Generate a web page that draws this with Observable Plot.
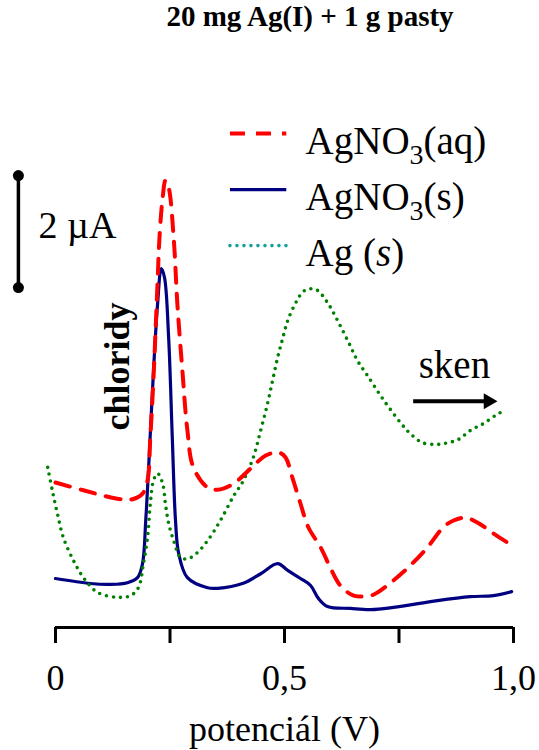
<!DOCTYPE html>
<html><head><meta charset="utf-8">
<script src="https://cdn.jsdelivr.net/npm/d3@7"></script>
<script src="https://cdn.jsdelivr.net/npm/@observablehq/plot@0.6"></script>
<style>
body{margin:0;background:#fff;}
#title{width:539px;height:45px;line-height:42px;font:bold 29px "Liberation Serif","Times New Roman",serif;text-align:center;padding-left:81px;box-sizing:border-box;white-space:nowrap;}
</style></head><body>
<div id="title">20 mg Ag(I) + 1 g pasty</div>
<div id="chart"></div>
<script>
// ---- data (potential in V, current in µA above baseline) ----
const aqV = [0,0.061,0.135,0.168,0.19,0.201,0.207,0.214,0.223,0.227,0.234,0.24,0.247,0.258,0.266,0.277,0.288,0.301,0.332,0.354,0.389,0.426,0.459,0.487,0.502,0.517,0.535,0.552,0.579,0.600,0.622,0.651,0.688,0.703,0.738,0.775,0.812,0.847,0.869,0.895,0.921,0.956,0.998];
const aqI = [2.59,2.45,2.30,2.29,2.39,2.63,3.39,4.46,6.20,6.96,7.68,7.98,7.86,6.96,5.79,4.59,3.52,2.86,2.50,2.46,2.57,2.84,3.07,3.125,3.04,2.68,2.21,1.79,1.43,1.07,0.75,0.57,0.57,0.625,0.84,1.11,1.43,1.79,1.91,1.96,1.875,1.68,1.46];

const sV = [0,0.076,0.12,0.157,0.179,0.19,0.197,0.203,0.214,0.223,0.231,0.238,0.247,0.255,0.262,0.269,0.288,0.332,0.354,0.41,0.448,0.485,0.507,0.535,0.557,0.574,0.594,0.644,0.688,0.738,0.834,0.906,0.956,0.996];
const sI = [0.875,0.786,0.77,0.80,0.89,1.14,1.91,2.80,4.59,5.79,6.41,6.25,5.18,3.39,1.91,1.32,0.89,0.71,0.70,0.79,0.96,1.14,1.02,0.875,0.75,0.52,0.375,0.34,0.32,0.36,0.48,0.55,0.57,0.64];

const agV = [-0.017,-0.007,0.004,0.017,0.039,0.061,0.092,0.135,0.164,0.181,0.192,0.201,0.207,0.214,0.223,0.234,0.24,0.247,0.258,0.273,0.29,0.31,0.332,0.36,0.389,0.41,0.432,0.448,0.463,0.474,0.485,0.496,0.507,0.524,0.541,0.557,0.572,0.594,0.616,0.640,0.659,0.681,0.714,0.753,0.775,0.801,0.834,0.852,0.880,0.906,0.934,0.961,0.976];
const agI = [2.86,2.45,2.04,1.61,1.20,0.89,0.625,0.54,0.57,0.71,1.14,1.61,2.21,2.625,2.75,2.57,2.21,1.86,1.55,1.25,1.23,1.34,1.55,1.91,2.35,2.62,3.04,3.52,4.0,4.41,4.82,5.16,5.48,5.79,6.0,6.05,6.02,5.80,5.48,5.09,4.77,4.5,4.09,3.66,3.46,3.30,3.27,3.29,3.36,3.52,3.64,3.79,3.86];

const xTickValues = [0, 0.25, 0.5, 0.75, 1];
const xTickLabels = ["0", "", "0,5", "", "1,0"];
const xLabel = "potenciál (V)";
const seriesNames = ["AgNO3(aq)", "AgNO3(s)", "Ag (s)"];
const scaleBarUA = 2;

// ---- helpers ----
const rows = (vs, is) => vs.map((v, k) => ({v, i: is[k]}));
const serif = '"Liberation Serif","Times New Roman",serif';
const lineColors = ["#ff0000", "#000080", "#008000"];
const legendColors = ["#ff0000", "#000080", "#14a0a0"];
const dashes = ["15,11", null, "0,7"];
const widths = [4, 3.2, 3.6];

const legendRows = seriesNames.map((name, k) => ({name, k, y: 8.82 - k, ty: 8.46 - k}));

const chart = Plot.plot({
  width: 539, height: 705,
  marginLeft: 55, marginRight: 26, marginTop: 78, marginBottom: 123,
  x: {domain: [0, 1]},
  y: {domain: [0, 9], axis: null},
  style: {fontFamily: serif, fontSize: "36px", color: "black", background: "white", overflow: "visible"},
  marks: [
    Plot.ruleY([0], {strokeWidth: 3}),
    Plot.axisX({ticks: xTickValues, tickSize: 16, tickPadding: 21, strokeWidth: 3,
      tickFormat: d => xTickLabels[xTickValues.indexOf(d)], fontSize: 36, label: null}),
    Plot.text([xLabel], {frameAnchor: "bottom", dy: 113, lineAnchor: "bottom", fontSize: 36}),
    Plot.line(rows(sV, sI), {x: "v", y: "i", stroke: lineColors[1], strokeWidth: widths[1], curve: "catmull-rom"}),
    Plot.line(rows(agV, agI), {x: "v", y: "i", stroke: lineColors[2], strokeWidth: widths[2], strokeDasharray: dashes[2], strokeLinecap: "round", curve: "catmull-rom"}),
    Plot.line(rows(aqV, aqI), {x: "v", y: "i", stroke: lineColors[0], strokeWidth: widths[0], strokeDasharray: dashes[0], curve: "catmull-rom"}),
    // legend
    ...legendRows.map(r => Plot.ruleY([r], {y: "y", x1: 0.382, x2: 0.505, stroke: legendColors[r.k], strokeWidth: widths[r.k], strokeDasharray: dashes[r.k], strokeLinecap: r.k === 2 ? "round" : "butt"})),
    Plot.text(legendRows, {x: 0.546, y: "ty", text: "name", textAnchor: "start", lineAnchor: "bottom", fontSize: 39}),
    // scale bar
    Plot.ruleX([-0.081], {y1: 6.07, y2: 6.07 + scaleBarUA, strokeWidth: 3.5}),
    Plot.dot([6.07, 6.07 + scaleBarUA], {x: -0.081, y: d => d, r: 5.5, fill: "black"}),
    Plot.text([`${scaleBarUA} µA`], {x: -0.037, y: 6.95, textAnchor: "start", lineAnchor: "bottom", fontSize: 38}),
    // annotations
    Plot.text(["chloridy"], {x: 0.135, y: 4.66, rotate: -90, fontWeight: "bold", fontSize: 36, textAnchor: "middle", lineAnchor: "middle"}),
    Plot.text(["sken"], {x: 0.793, y: 4.46, textAnchor: "start", lineAnchor: "bottom", fontSize: 39}),
    Plot.ruleY([4.04], {x1: 0.782, x2: 0.945, strokeWidth: 4}),
    Plot.dot([4.04], {x: 0.945, y: d => d, symbol: "triangle", rotate: 90, r: 5.9, fill: "black"})
  ]
});
document.getElementById("chart").appendChild(chart);

// rich text for legend entries (subscript / italic)
d3.select(chart).selectAll("text").each(function() {
  const t = this.textContent;
  if (t === "AgNO3(aq)") this.innerHTML = 'AgNO<tspan dy="10" font-size="28">3</tspan><tspan dy="-10">(aq)</tspan>';
  else if (t === "AgNO3(s)") this.innerHTML = 'AgNO<tspan dy="10" font-size="28">3</tspan><tspan dy="-10">(s)</tspan>';
  else if (t === "Ag (s)") this.innerHTML = 'Ag (<tspan font-style="italic">s</tspan>)';
});
</script>
</body></html>
